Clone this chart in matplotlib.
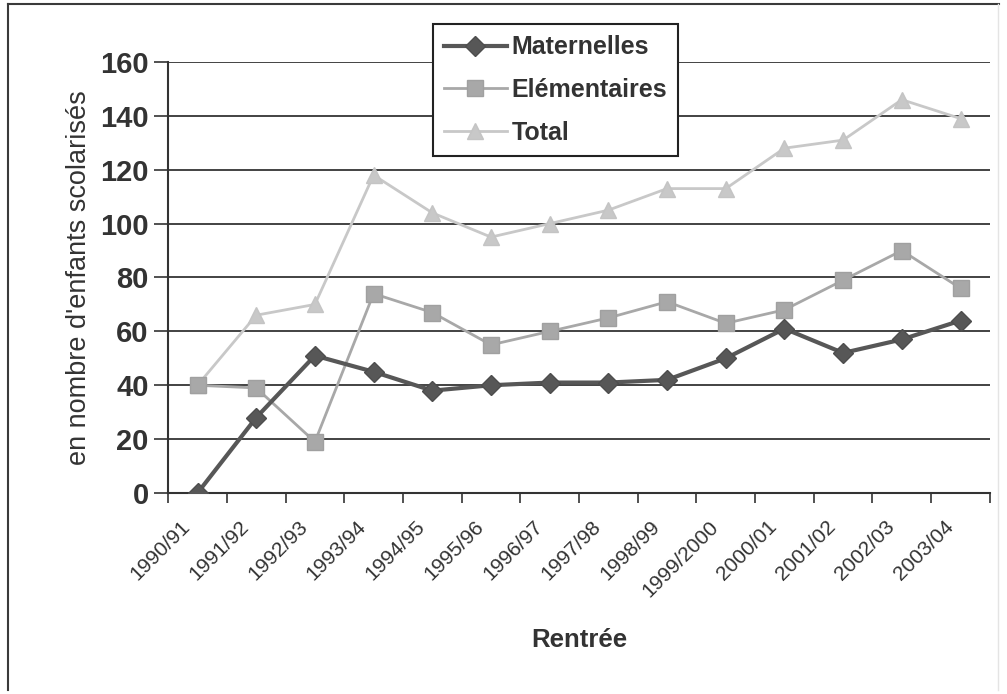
import numpy as np
import matplotlib.pyplot as plt
import matplotlib.transforms as mtransforms
from matplotlib.lines import Line2D

plt.rcParams['font.family'] = ['Liberation Sans', 'DejaVu Sans']

rentrees = ['1990/91', '1991/92', '1992/93', '1993/94', '1994/95', '1995/96',
            '1996/97', '1997/98', '1998/99', '1999/2000', '2000/01', '2001/02',
            '2002/03', '2003/04']
maternelles = [0, 28, 51, 45, 38, 40, 41, 41, 42, 50, 61, 52, 57, 64]
elementaires = [40, 39, 19, 74, 67, 55, 60, 65, 71, 63, 68, 79, 90, 76]
total = [40, 66, 70, 118, 104, 95, 100, 105, 113, 113, 128, 131, 146, 139]

text_color = '#333333'

fig = plt.figure(figsize=(10.07, 6.94), dpi=100)
ax = fig.add_axes([0.167, 0.2896, 0.816, 0.6211])

# Frame around the chart: dark left/top edges, faint right edge
fig.add_artist(Line2D([0.008, 0.008], [0.006, 0.994], transform=fig.transFigure,
                      color='#3a3a3a', linewidth=1.5))
fig.add_artist(Line2D([0.008, 0.992], [0.994, 0.994], transform=fig.transFigure,
                      color='#3a3a3a', linewidth=1.5))
fig.add_artist(Line2D([0.991, 0.991], [0.006, 0.994], transform=fig.transFigure,
                      color='#e4e4e4', linewidth=1.0))

x = np.arange(len(rentrees))
ax.plot(x, total, color='#c8c8c8', linewidth=2, marker='^', markersize=12,
        markeredgecolor='#c4c4c4', label='Total', zorder=3)
ax.plot(x, elementaires, color='#a8a8a8', linewidth=2, marker='s', markersize=11,
        markeredgecolor='#a0a0a0', label='Elémentaires', zorder=4)
ax.plot(x, maternelles, color='#575757', linewidth=3, marker='D', markersize=10,
        markeredgecolor='#4d4d4d', label='Maternelles', zorder=5)

ax.set_xlim(-0.5, len(rentrees) - 0.5)
ax.set_ylim(0, 160)
ax.set_yticks(range(0, 161, 20))
ax.yaxis.grid(True, color='#222222', linewidth=1.2)
ax.set_axisbelow(True)

for side in ['top', 'right']:
    ax.spines[side].set_visible(False)
for side in ['left', 'bottom']:
    ax.spines[side].set_color('#333333')
    ax.spines[side].set_linewidth(1.5)

ax.tick_params(axis='y', length=10, width=1.2, color='#333333',
               labelsize=21, labelcolor=text_color, pad=4)
for lbl in ax.get_yticklabels():
    lbl.set_fontweight('bold')

ax.set_xticks(x)
ax.set_xticks(np.arange(-0.5, len(rentrees)), minor=True)
ax.tick_params(axis='x', which='major', length=0, pad=10)
ax.tick_params(axis='x', which='minor', length=7, width=1.2, color='#333333')
ax.set_xticklabels(rentrees, rotation=45, ha='right', rotation_mode='anchor',
                   fontsize=15, color=text_color)
shift = mtransforms.ScaledTranslation(-0.17, -0.10, fig.dpi_scale_trans)
for lbl in ax.get_xticklabels():
    lbl.set_transform(lbl.get_transform() + shift)

ax.set_ylabel("en nombre d'enfants scolarisés", fontsize=19.5, color=text_color,
              labelpad=6)
ax.set_xlabel('Rentrée', fontsize=18.5, fontweight='bold', color=text_color,
              labelpad=20)

handles, labels = ax.get_legend_handles_labels()
leg = ax.legend(handles[::-1], labels[::-1], loc='upper left',
                bbox_to_anchor=(0.322, 1.088), frameon=True, fancybox=False,
                edgecolor='#222222', framealpha=1, fontsize=18,
                handlelength=2.5, handletextpad=0.2, borderpad=0.45,
                labelspacing=0.75, borderaxespad=0)
leg.get_frame().set_linewidth(1.5)
for t in leg.get_texts():
    t.set_fontweight('bold')
    t.set_color(text_color)
leg.set_zorder(10)

fig.savefig('out.png', dpi=100)
